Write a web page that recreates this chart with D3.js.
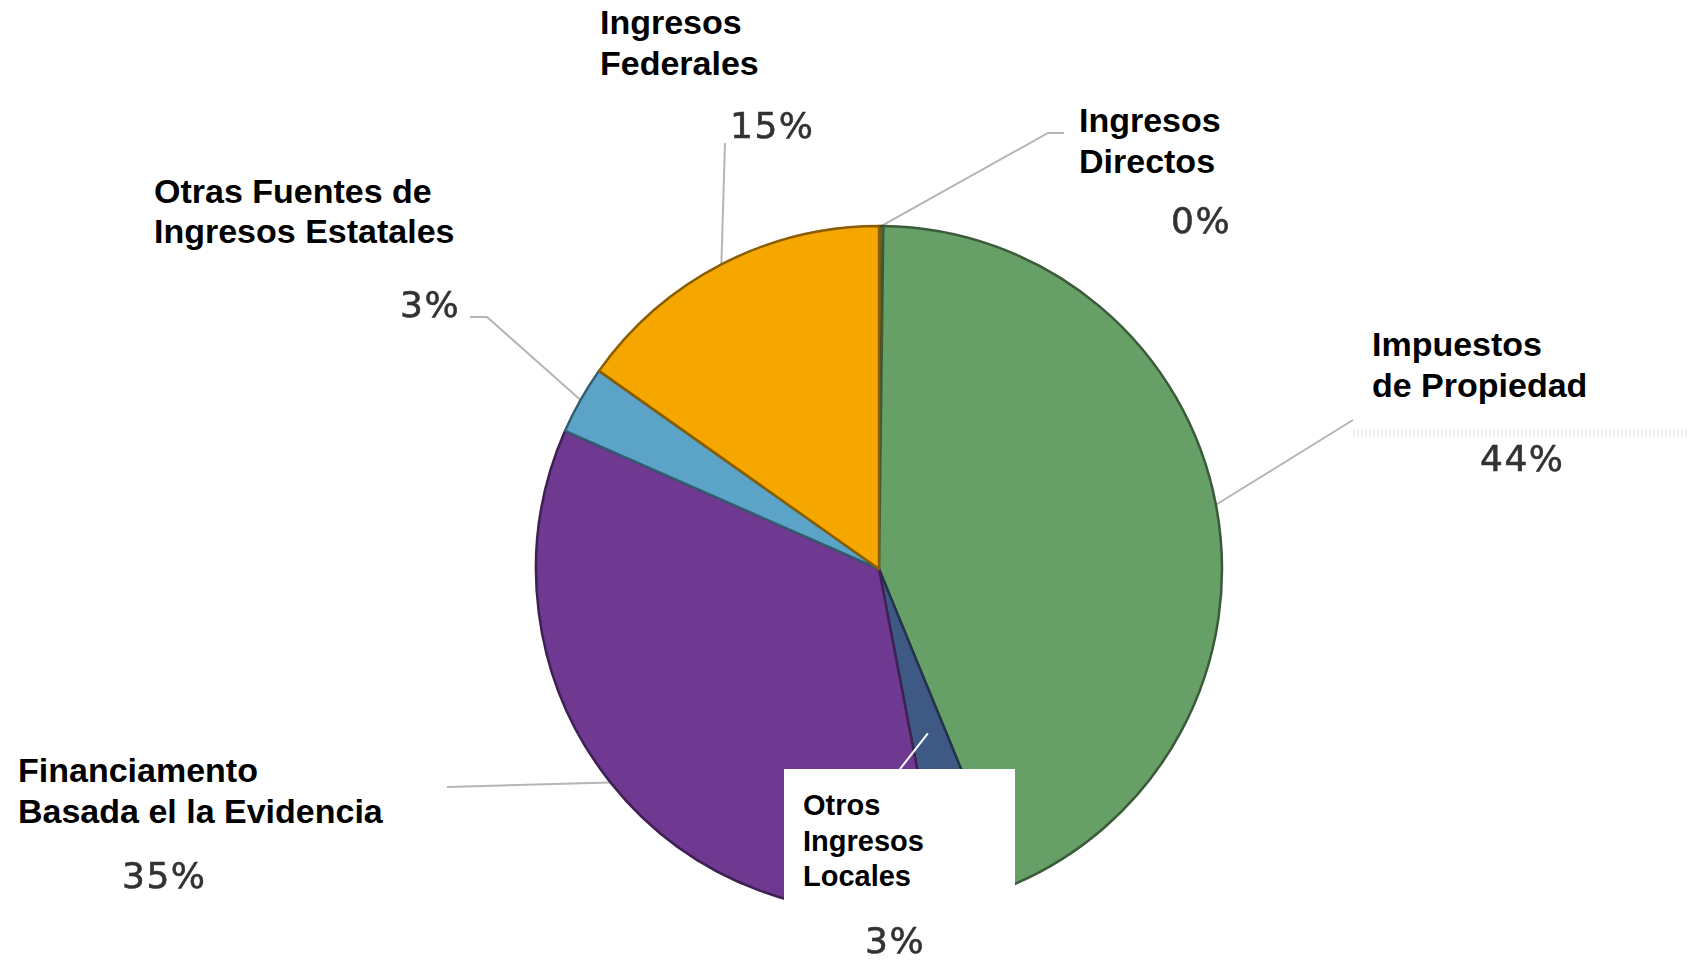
<!DOCTYPE html>
<html>
<head>
<meta charset="utf-8">
<script src="https://cdn.jsdelivr.net/npm/d3@7"></script>
<style>
  body { margin: 0; background: #fff; }
  svg { display: block; }
</style>
</head>
<body>
<div id="chart"></div>
<script>
// slice order: clockwise from 12 o'clock
var categories = ["Ingresos Directos", "Impuestos de Propiedad", "Otros Ingresos Locales",
                  "Financiamento Basada el la Evidencia", "Otras Fuentes de Ingresos Estatales", "Ingresos Federales"];
var values = [0.2, 43.6, 3.2, 34.6, 3.2, 15.2];
var labelLines = [["Ingresos", "Directos"], ["Impuestos", "de Propiedad"], ["Otros", "Ingresos", "Locales"],
                  ["Financiamento", "Basada el la Evidencia"], ["Otras Fuentes de", "Ingresos Estatales"], ["Ingresos", "Federales"]];
var colors = ["#7a6424", "#66a066", "#3e5a84", "#6f3992", "#5ca3c8", "#f5a700"];

var width = 1688, height = 961,
    cx = 879, cy = 569, r = 343;

// label placement (layout only)
var nameLayout = [
    { x: 1079, y: 132, size: 34, lh: 41 },
    { x: 1372, y: 356, size: 34, lh: 41 },
    { x: 803, y: 815, size: 29, lh: 35.5 },
    { x: 18, y: 782, size: 34, lh: 41 },
    { x: 154, y: 203, size: 34, lh: 40 },
    { x: 600, y: 34, size: 34, lh: 41 }
];
var pctLayout = [
    { x: 1171, y: 233 }, { x: 1480, y: 471 }, { x: 865, y: 953 },
    { x: 122, y: 888 }, { x: 400, y: 317 }, { x: 730, y: 138 }
];
var leaderEnds = [
    [[1048, 133], [1064, 133]],
    [[1353, 420]],
    null,
    [[447, 787]],
    [[487, 317], [470, 317]],
    [[725, 143]]
];

var svg = d3.select("#chart").append("svg")
    .attr("width", width)
    .attr("height", height);

var defs = svg.append("defs");
defs.append("filter").attr("id", "soft")
    .append("feGaussianBlur").attr("stdDeviation", 0.6);

var data = categories.map(function (c, i) {
    return { name: c, value: values[i], lines: labelLines[i], color: colors[i] };
});

var pie = d3.pie().sort(null).value(function (d) { return d.value; });
var arc = d3.arc().innerRadius(0).outerRadius(r);
var arcs = pie(data);

function edge(a, k) {
    var m = (a.startAngle + a.endAngle) / 2;
    return [cx + k * r * Math.sin(m), cy - k * r * Math.cos(m)];
}

// faint band behind the 44% label
svg.append("line")
    .attr("x1", 1353).attr("x2", width)
    .attr("y1", 433).attr("y2", 433)
    .attr("stroke", "#f0f0f0")
    .attr("stroke-width", 8)
    .attr("stroke-dasharray", "2,2");

// grey leader lines
var line = d3.line();
svg.append("g").selectAll("path")
    .data(arcs.filter(function (a, i) { return leaderEnds[i]; }))
    .enter().append("path")
    .attr("d", function (a) {
        return line([edge(a, 1)].concat(leaderEnds[a.index]));
    })
    .attr("fill", "none")
    .attr("stroke", "#b5b5b5")
    .attr("stroke-width", 2);

// slices
var g = svg.append("g").attr("transform", "translate(" + cx + "," + cy + ")");
g.selectAll("path")
    .data(arcs)
    .enter().append("path")
    .attr("d", arc)
    .attr("fill", function (a) { return a.data.color; })
    .attr("stroke", function (a) { return d3.color(a.data.color).darker(1.6); })
    .attr("stroke-width", 2.5)
    .attr("stroke-linejoin", "round");

// white leader for Otros Ingresos Locales, then its white box
var local = arcs[2];
svg.append("path")
    .attr("d", line([edge(local, 0.5), [900, 769]]))
    .attr("stroke", "#fff")
    .attr("stroke-width", 2);
svg.append("rect")
    .attr("x", 784).attr("y", 769)
    .attr("width", 231).attr("height", 145)
    .attr("fill", "#fff");

// category names
var names = svg.append("g")
    .attr("font-family", "'Liberation Sans', Arial, sans-serif")
    .attr("font-weight", "bold")
    .attr("fill", "#000");
arcs.forEach(function (a, i) {
    var L = nameLayout[i];
    var t = names.append("text")
        .attr("x", L.x).attr("y", L.y)
        .attr("font-size", L.size);
    a.data.lines.forEach(function (s, j) {
        t.append("tspan").attr("x", L.x).attr("y", L.y + j * L.lh).text(s);
    });
});

// percentages
svg.append("g")
    .attr("font-family", "'DejaVu Sans', Verdana, sans-serif")
    .attr("font-size", 36)
    .attr("letter-spacing", 1.5)
    .attr("fill", "#333")
    .attr("stroke", "#333")
    .attr("stroke-width", 0.6)
    .attr("filter", "url(#soft)")
    .selectAll("text")
    .data(arcs)
    .enter().append("text")
    .attr("x", function (a, i) { return pctLayout[i].x; })
    .attr("y", function (a, i) { return pctLayout[i].y; })
    .text(function (a) { return Math.round(a.data.value) + "%"; });
</script>
</body>
</html>
